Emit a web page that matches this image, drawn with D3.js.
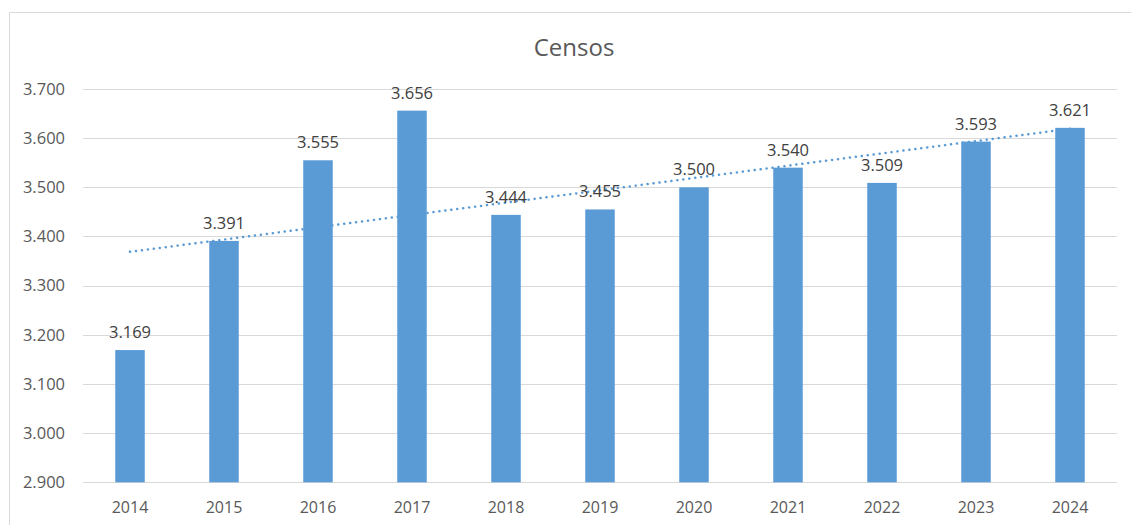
<!DOCTYPE html>
<html>
<head>
<meta charset="utf-8">
<script src="https://cdn.jsdelivr.net/npm/d3@7"></script>
<style>
  html, body { margin: 0; padding: 0; background: #fff; }
  svg { display: block; font-family: "Open Sans", "Liberation Sans", sans-serif; }
</style>
</head>
<body>
<svg id="chart" width="1131" height="525"></svg>
<script>
const categories = ["2014","2015","2016","2017","2018","2019","2020","2021","2022","2023","2024"];
const values = [3.169, 3.391, 3.555, 3.656, 3.444, 3.455, 3.500, 3.540, 3.509, 3.593, 3.621];
const yTicks = [2.9, 3.0, 3.1, 3.2, 3.3, 3.4, 3.5, 3.6, 3.7];
const title = "Censos";

const svg = d3.select("#chart");
const fmt = v => d3.format(".3f")(v);
const FONT = "\"Open Sans\", \"Liberation Sans\", sans-serif";

// frame
svg.append("path")
  .attr("d", "M9.5,525 L9.5,12.5 L1131,12.5")
  .attr("fill", "none").attr("stroke", "#d9d9d9").attr("stroke-width", 1);

const x = d3.scaleBand().domain(categories).range([83, 1117]).paddingInner(0.686).paddingOuter(0.343);
const y = d3.scaleLinear().domain([2.9, 3.7]).range([482.3, 89]);

// title
svg.append("text").attr("x", 574).attr("y", 56).attr("text-anchor", "middle")
  .attr("font-size", 24).attr("fill", "#595959").text(title);

// gridlines
svg.append("g").selectAll("line").data(yTicks).join("line")
  .attr("x1", 83).attr("x2", 1117)
  .attr("y1", d => Math.round(y(d)) + 0.5).attr("y2", d => Math.round(y(d)) + 0.5)
  .attr("stroke", "#d9d9d9").attr("stroke-width", 1);

// y axis labels
const yAxis = d3.axisLeft(y).tickValues(yTicks).tickSize(0).tickPadding(0)
  .tickFormat(d => d3.format(".3f")(d));
const gy = svg.append("g").attr("transform", "translate(65,0)").call(yAxis);
gy.select(".domain").remove();
gy.selectAll("text").attr("font-size", 16.5).attr("fill", "#595959").attr("font-family", FONT);

// bars
svg.append("g").selectAll("rect").data(values).join("rect")
  .attr("x", (d, i) => x(categories[i]))
  .attr("width", x.bandwidth())
  .attr("y", d => y(d))
  .attr("height", d => y(2.9) - y(d))
  .attr("fill", "#5b9bd5");

// x axis labels
const xAxis = d3.axisBottom(x).tickSize(0).tickPadding(0);
const gx = svg.append("g").attr("transform", "translate(0,502)").call(xAxis);
gx.select(".domain").remove();
gx.selectAll("text").attr("font-size", 16).attr("fill", "#595959").attr("font-family", FONT);

// trendline (linear regression)
const n = values.length;
const xs = d3.range(n);
const mx = d3.mean(xs), my = d3.mean(values);
const slope = d3.sum(xs, i => (i - mx) * (values[i] - my)) / d3.sum(xs, i => (i - mx) * (i - mx));
const intercept = my - slope * mx;
const cx = i => x(categories[i]) + x.bandwidth() / 2;
svg.append("line")
  .attr("x1", cx(0)).attr("y1", y(intercept))
  .attr("x2", cx(n - 1)).attr("y2", y(intercept + slope * (n - 1)))
  .attr("stroke", "#5b9bd5").attr("stroke-width", 2.5)
  .attr("stroke-dasharray", "0.1,5.9").attr("stroke-linecap", "round");

// data labels
svg.append("g").selectAll("text").data(values).join("text")
  .attr("x", (d, i) => cx(i))
  .attr("y", d => y(d) - 12)
  .attr("text-anchor", "middle")
  .attr("font-size", 16.5).attr("fill", "#404040")
  .text(d => fmt(d));
</script>
</body>
</html>
